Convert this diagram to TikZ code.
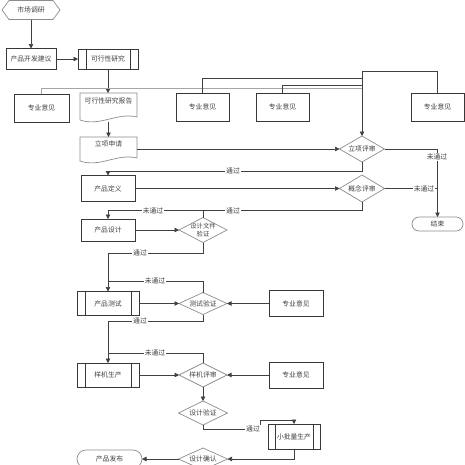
\documentclass[tikz,border=0pt]{standalone}
\usepackage{fontspec}
\newfontfamily\cjk{Noto Sans CJK SC}
\usetikzlibrary{arrows.meta,calc}
\begin{document}
\begin{tikzpicture}[x=1pt,y=-1pt,
  every node/.style={font=\cjk\fontsize{6.8}{8}\selectfont, text=black!75, inner sep=0pt, outer sep=0pt},
  ln/.style={draw=black!75, line width=0.7pt},
  arr/.style={ln, -{Triangle[length=4.5pt,width=4.5pt]}},
  box/.style={draw=black!78, line width=0.8pt},
  sz/.style 2 args={minimum width=#1, minimum height=#2},
  lbl/.style={fill=white, inner xsep=1pt, inner ysep=1pt},
  diaedge/.style={draw=black!45, line width=0.7pt},
  docedge/.style={draw=black!45, line width=0.7pt},
  term/.style={draw=black!45, line width=0.7pt, rounded corners=#1},
]
\useasboundingbox (0,0) rectangle (465,464);
\clip (0,0) rectangle (465,464);

\newcommand\mydia[1]{\draw[diaedge] (#1.north) -- (#1.east) -- (#1.south) -- (#1.west) -- cycle;}
\newcommand\mypp[2]{\draw[box] ([xshift=#2]#1.north west) -- ([xshift=#2]#1.south west)
  ([xshift=-#2]#1.north east) -- ([xshift=-#2]#1.south east);}
\newcommand\mydoc[1]{\draw[docedge] ($(#1.south east)+(0,-5)$) -- (#1.north east) -- (#1.north west) -- ($(#1.south west)+(0,-2)$)
  .. controls ($(#1.south west)!0.35!(#1.south east)+(0,5)$) and ($(#1.south west)!0.65!(#1.south east)+(0,-10)$) .. ($(#1.south east)+(0,-5)$);}

% nodes
\node[sz={58}{19}] (mkt) at (31,10) {市场调研};
\draw[diaedge] (mkt.west) -- ([xshift=7pt]mkt.north west) -- ([xshift=-7pt]mkt.north east) -- (mkt.east)
  -- ([xshift=-7pt]mkt.south east) -- ([xshift=7pt]mkt.south west) -- cycle;
\node[box,sz={50}{21}] (jy) at (31,59) {产品开发建议};
\node[box,sz={60}{20}] (kx) at (108,59) {可行性研究};
\mypp{kx}{8pt}
\node[sz={57}{29}] (bg) at (108.5,107.5) {};
\mydoc{bg}
\node (bgt) at (108.5,101) {可行性研究报告};
\node[box,sz={55}{28}] (zy1) at (41.5,108) {专业意见};
\node[box,sz={53}{28}] (zy2) at (202.5,107) {专业意见};
\node[box,sz={53}{28}] (zy3) at (282.5,107) {专业意见};
\node[box,sz={53}{28}] (zy4) at (437.5,107) {专业意见};
\node[sz={57}{26}] (sq) at (108.5,150) {};
\mydoc{sq}
\node (sqt) at (108.5,144) {立项申请};
\node[sz={45}{26}] (ps1) at (362,149) {立项评审};
\mydia{ps1}
\node[box,sz={54}{26}] (dy) at (108,188.5) {产品定义};
\node[sz={45}{27}] (ps2) at (362,188.5) {概念评审};
\mydia{ps2}
\node[term=7pt,sz={51}{14}] (end) at (437.5,224) {结束};
\node[box,sz={54}{22}] (sj) at (108,230) {产品设计};
\node[sz={48}{25},align=center,font=\cjk\fontsize{6.3}{7.5}\selectfont] (yz1) at (203,230) {设计文件\\验证};
\mydia{yz1}
\node[box,sz={62}{24}] (cs) at (108,303.5) {产品测试};
\mypp{cs}{8pt}
\node[sz={48}{22}] (yz2) at (203,303.5) {测试验证};
\mydia{yz2}
\node[box,sz={54}{26}] (zy5) at (296,303.5) {专业意见};
\node[box,sz={62}{24}] (yj) at (108,375) {样机生产};
\mypp{yj}{8pt}
\node[sz={48}{24}] (ps3) at (203,375) {样机评审};
\mydia{ps3}
\node[box,sz={54}{26}] (zy6) at (296,375) {专业意见};
\node[sz={49}{24}] (yz3) at (203,413) {设计验证};
\mydia{yz3}
\node[box,sz={52}{25}] (xp) at (294,436.5) {小批量生产};
\mypp{xp}{7pt}
\node[sz={49}{22}] (qr) at (203,459) {设计确认};
\mydia{qr}
\node[term=9pt,sz={65}{18}] (fb) at (109.5,459) {产品发布};

% helper coordinates
\coordinate (bus) at (362,71);
\coordinate (b1) at (362,88);
\coordinate (b2) at (362,78);
\coordinate (b3) at (362,85.5);
\coordinate (k1) at (362,171);
\coordinate (k2) at (362,210.5);
\coordinate (j1) at (203,210.5);
\coordinate (k3) at (203,253);
\coordinate (k4) at (108,281);
\coordinate (k5) at (203,321);
\coordinate (k6) at (108,353);
\coordinate (k7) at (260,429);
\coordinate (k8) at (260,420);

% connectors
\draw[arr] (mkt) -- (jy);
\draw[arr] (jy.east) -- (jy.east -| kx.west);
\draw[arr] (kx.south) -- (kx.south |- bg.north);
\draw[arr] (bg.south) -- (bg.south |- sq.north);
\draw[ln, draw=black!35] (zy1.north) |- (b1);
\draw[ln] (zy2.north) |- (b2);
\draw[ln] (zy3.north) |- (b3);
\draw[ln] (zy4.north) |- (bus);
\draw[arr] (bus) -- (ps1.north);
\draw[arr] (sq.east |- ps1.west) -- (ps1.west);
\draw[arr] (ps1.south) -- (k1) -| (dy.north);
\draw[arr] (dy.east) -- (ps2.west);
\draw[arr] (ps1.east) -| (end.north);
\draw[ln] (ps2.east) -- (ps2.east -| end.north);
\draw[arr] (ps2.south) -- (k2) -| (sj.north);
\draw[ln] (yz1.north) -- (j1);
\draw[arr] (sj.east) -- (yz1.west);
\draw[arr] (yz1.south) -- (k3) -| (cs.north);
\draw[ln] (yz2.north) |- (k4);
\draw[arr] (cs.east) -- (yz2.west);
\draw[arr] (zy5.west) -- (yz2.east);
\draw[arr] (yz2.south) -- (k5) -| (yj.north);
\draw[ln] (ps3.north) |- (k6);
\draw[arr] (yj.east) -- (ps3.west);
\draw[arr] (zy6.west) -- (ps3.east);
\draw[arr] (ps3.south) -- (yz3.north);
\draw[arr] (yz3.south) |- (k7) -- (k8) -| (xp.north);
\draw[arr] (xp.south) |- (qr.east);
\draw[arr] (qr.west) -- (fb.east);

% labels
\node[lbl] (l1) at (233,171) {通过};
\node[lbl] (l2) at (437,157) {未通过};
\node[lbl] (l3) at (424,188.5) {未通过};
\node[lbl] (l4) at (233,210.5) {通过};
\node[lbl] (l5) at (153,210.5) {未通过};
\node[lbl] (l6) at (140,253) {通过};
\node[lbl] (l7) at (155,281) {未通过};
\node[lbl] (l8) at (140,321) {通过};
\node[lbl] (l9) at (155,353) {未通过};
\node[lbl] (l10) at (253,429) {通过};
\end{tikzpicture}
\end{document}
